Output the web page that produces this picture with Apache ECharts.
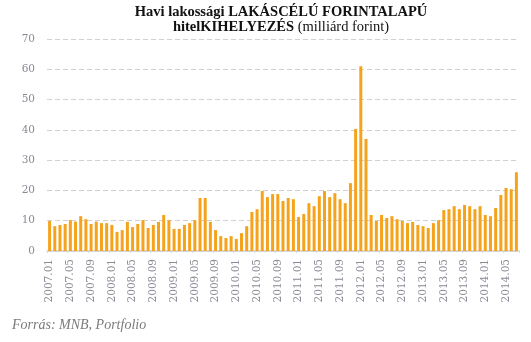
<!DOCTYPE html>
<html>
<head>
<meta charset="utf-8">
<script src="https://cdn.jsdelivr.net/npm/echarts@6/dist/echarts.min.js"></script>
<style>
  html, body { margin: 0; padding: 0; background: #fff; }
  #chart { width: 531px; height: 342px; }
</style>
</head>
<body>
<div id="chart"></div>
<script>
// Monthly categories 2007.01 – 2014.07
const startYear = 2007;
const monthCount = 91;
const months = [];
for (let i = 0; i < monthCount; i++) {
  const y = startYear + Math.floor(i / 12);
  const m = (i % 12) + 1;
  months.push(y + '.' + (m < 10 ? '0' + m : m));
}

// Monthly new HUF housing loans to households (billion HUF)
const values = [
  9.9, 8.2, 8.6, 8.9, 10.2, 9.7, 11.5, 10.5, 8.9, 9.7, 9.2, 9.2,
  8.6, 6.3, 6.9, 9.6, 7.9, 8.9, 10.2, 7.6, 8.6, 9.6, 11.9, 10.2,
  7.3, 7.3, 8.6, 9.2, 10.2, 17.5, 17.5, 9.6, 6.9, 4.9, 4.3, 4.9,
  4.0, 5.9, 8.2, 12.9, 13.8, 19.8, 17.8, 18.8, 18.8, 16.5, 17.5, 17.1,
  11.2, 12.2, 15.8, 14.8, 18.1, 19.8, 17.8, 19.1, 17.1, 15.8, 22.4, 40.3,
  61.0, 37.0, 11.9, 9.9, 11.9, 10.9, 11.5, 10.5, 9.9, 9.2, 9.6, 8.6,
  8.2, 7.6, 9.2, 10.2, 13.5, 13.8, 14.8, 13.8, 15.2, 14.8, 13.8, 14.8,
  11.9, 11.5, 14.2, 18.5, 20.8, 20.4, 26.0
];

const yTicks = { min: 0, max: 70, step: 10 };

const titleLine1 = 'Havi lakossági LAKÁSCÉLÚ FORINTALAPÚ';
const titleLine2Bold = 'hitelKIHELYEZÉS';
const titleLine2Rest = ' (milliárd forint)';
const sourceText = 'Forrás: MNB, Portfolio';

const chart = echarts.init(document.getElementById('chart'), null, { renderer: 'canvas' });

const serif = '"Liberation Serif", "DejaVu Serif", serif';
const labelFont = '"DejaVu Serif", serif';

chart.setOption({
  animation: false,
  backgroundColor: '#ffffff',
  grid: { left: 47, right: 12, top: 39, bottom: 91, containLabel: false },
  xAxis: {
    type: 'category',
    data: months,
    boundaryGap: true,
    axisLine: { show: true, lineStyle: { color: '#cfcfcf', width: 1.5 } },
    axisTick: { show: true, interval: 3, length: 2, lineStyle: { color: '#d8d8d8' } },
    axisLabel: {
      interval: 3,
      rotate: 90,
      margin: 8,
      color: '#8a8a96',
      fontFamily: labelFont,
      fontSize: 10.5
    },
    splitLine: { show: false }
  },
  yAxis: {
    type: 'value',
    min: yTicks.min,
    max: yTicks.max,
    interval: yTicks.step,
    axisLine: { show: false },
    axisTick: { show: false },
    axisLabel: {
      margin: 12,
      color: '#8a8a96',
      fontFamily: labelFont,
      fontSize: 10.5
    },
    splitLine: { show: true, lineStyle: { color: '#d0d0d0', type: [5, 3], width: 1 } }
  },
  series: [{
    type: 'bar',
    data: values,
    barWidth: 3,
    itemStyle: { color: '#F6A31C' }
  }],
  graphic: [
    {
      type: 'text',
      x: 281, y: 5,
      style: {
        text: titleLine1,
        textAlign: 'center',
        textVerticalAlign: 'top',
        font: 'bold 14.5px ' + serif,
        fill: '#111111'
      }
    },
    {
      type: 'text',
      x: 281, y: 20,
      style: {
        text: '{b|' + titleLine2Bold + '}{n|' + titleLine2Rest + '}',
        textAlign: 'center',
        textVerticalAlign: 'top',
        rich: {
          b: { font: 'bold 14.5px ' + serif, fill: '#111111', color: '#111111' },
          n: { font: '14.5px ' + serif, fill: '#111111', color: '#111111' }
        }
      }
    },
    {
      type: 'text',
      x: 12, y: 318,
      style: {
        text: sourceText,
        font: 'italic 14px ' + serif,
        fill: '#7a7a7a'
      }
    }
  ]
});
</script>
</body>
</html>
